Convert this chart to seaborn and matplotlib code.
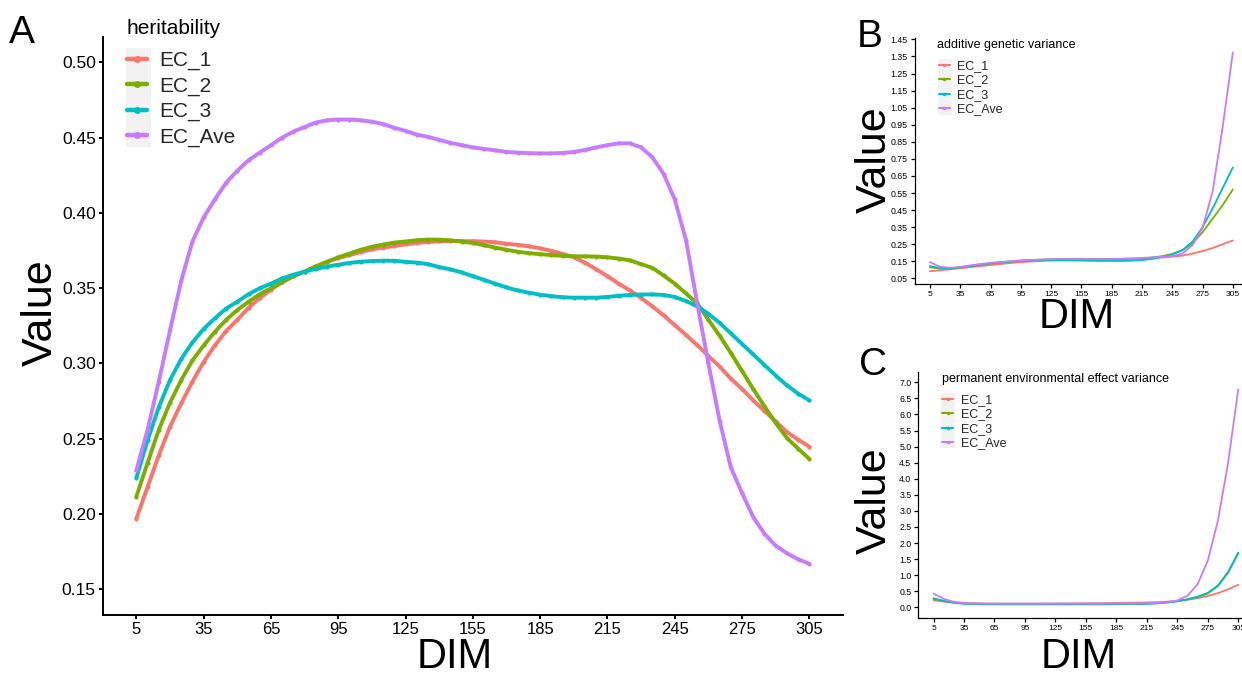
import numpy as np
import pandas as pd
import matplotlib
matplotlib.use("Agg")
import matplotlib.pyplot as plt
import seaborn as sns
from matplotlib.lines import Line2D
from matplotlib.patches import Rectangle

groups = ["EC_1", "EC_2", "EC_3", "EC_Ave"]
colors = ["#F8766D", "#7CAE00", "#00BFC4", "#C77CFF"]

# panel A: heritability, read every 5 DIM
dim_h = list(range(5, 306, 5))
h_ec1 = [0.197, 0.218, 0.239, 0.258, 0.2735, 0.288, 0.301, 0.312, 0.3215, 0.329,
         0.337, 0.3435, 0.349, 0.354, 0.358, 0.361, 0.3645, 0.3675, 0.370, 0.372,
         0.374, 0.3757, 0.377, 0.378, 0.3791, 0.380, 0.3807, 0.3811, 0.3813, 0.3813,
         0.3812, 0.381, 0.3805, 0.3795, 0.3788, 0.3778, 0.3765, 0.3748, 0.3728, 0.3705,
         0.367, 0.3625, 0.358, 0.353, 0.3485, 0.3435, 0.338, 0.332, 0.3255, 0.319,
         0.3122, 0.305, 0.298, 0.290, 0.283, 0.2755, 0.2685, 0.2615, 0.2545, 0.2495,
         0.2448]
h_ec2 = [0.2116, 0.234, 0.256, 0.274, 0.289, 0.302, 0.312, 0.321, 0.329, 0.3355,
         0.341, 0.346, 0.350, 0.354, 0.358, 0.361, 0.3645, 0.3675, 0.3705, 0.373,
         0.3755, 0.3775, 0.379, 0.3803, 0.381, 0.3818, 0.3823, 0.3822, 0.3818, 0.381,
         0.380, 0.3785, 0.377, 0.3755, 0.3742, 0.3733, 0.3726, 0.372, 0.3715, 0.3712,
         0.3711, 0.371, 0.3705, 0.3697, 0.3685, 0.366, 0.3635, 0.3585, 0.353, 0.3465,
         0.340, 0.329, 0.3185, 0.307, 0.295, 0.283, 0.2715, 0.2605, 0.2505, 0.2435,
         0.2366]
h_ec3 = [0.224, 0.249, 0.271, 0.289, 0.303, 0.314, 0.323, 0.330, 0.3365, 0.341,
         0.346, 0.350, 0.353, 0.3565, 0.359, 0.361, 0.3628, 0.3643, 0.3656, 0.3668,
         0.3676, 0.368, 0.3683, 0.3682, 0.3675, 0.367, 0.366, 0.364, 0.3625, 0.3605,
         0.358, 0.3555, 0.353, 0.3505, 0.3485, 0.347, 0.3457, 0.3447, 0.344, 0.3437,
         0.3437, 0.3437, 0.3442, 0.345, 0.3455, 0.3458, 0.3459, 0.3455, 0.3442, 0.3415,
         0.338, 0.333, 0.327, 0.320, 0.313, 0.306, 0.299, 0.292, 0.2855, 0.280,
         0.2755]
h_ave = [0.229, 0.256, 0.288, 0.322, 0.355, 0.381, 0.397, 0.409, 0.420, 0.428,
         0.435, 0.440, 0.445, 0.450, 0.454, 0.457, 0.460, 0.4615, 0.462, 0.462,
         0.4615, 0.4606, 0.459, 0.4565, 0.4545, 0.452, 0.4505, 0.4485, 0.4465, 0.445,
         0.4435, 0.4425, 0.4415, 0.4405, 0.440, 0.4397, 0.4395, 0.4395, 0.4398, 0.4405,
         0.4418, 0.4435, 0.445, 0.4462, 0.4462, 0.4435, 0.437, 0.426, 0.409, 0.382,
         0.340, 0.300, 0.262, 0.231, 0.214, 0.198, 0.187, 0.179, 0.174, 0.170,
         0.167]

# panels B and C: read every 10 DIM
dim_v = list(range(5, 306, 10))
add_ec1 = [0.092, 0.097, 0.103, 0.109, 0.116, 0.122, 0.128, 0.134, 0.140, 0.145,
           0.149, 0.152, 0.155, 0.157, 0.158, 0.159, 0.160, 0.161, 0.162, 0.163,
           0.165, 0.167, 0.170, 0.173, 0.177, 0.183, 0.195, 0.210, 0.228, 0.250,
           0.272]
add_ec2 = [0.115, 0.107, 0.108, 0.114, 0.122, 0.130, 0.137, 0.143, 0.148, 0.153,
           0.157, 0.160, 0.162, 0.163, 0.164, 0.164, 0.164, 0.164, 0.164, 0.164,
           0.165, 0.167, 0.172, 0.180, 0.193, 0.215, 0.255, 0.320, 0.400, 0.480,
           0.571]
add_ec3 = [0.122, 0.110, 0.109, 0.115, 0.123, 0.131, 0.138, 0.144, 0.149, 0.153,
           0.155, 0.156, 0.156, 0.156, 0.155, 0.154, 0.153, 0.152, 0.152, 0.152,
           0.154, 0.157, 0.164, 0.175, 0.190, 0.215, 0.265, 0.350, 0.460, 0.580,
           0.700]
add_ave = [0.145, 0.118, 0.112, 0.117, 0.126, 0.134, 0.141, 0.146, 0.151, 0.155,
           0.158, 0.160, 0.162, 0.163, 0.163, 0.163, 0.163, 0.163, 0.164, 0.165,
           0.167, 0.170, 0.173, 0.176, 0.180, 0.195, 0.245, 0.345, 0.560, 0.940,
           1.374]

pe_ec1 = [0.22, 0.18, 0.15, 0.135, 0.125, 0.12, 0.115, 0.115, 0.115, 0.115,
          0.115, 0.115, 0.118, 0.12, 0.122, 0.125, 0.128, 0.13, 0.135, 0.14,
          0.145, 0.15, 0.16, 0.175, 0.20, 0.235, 0.285, 0.35, 0.44, 0.56,
          0.70]
pe_ec2 = [0.26, 0.19, 0.14, 0.115, 0.10, 0.095, 0.095, 0.095, 0.095, 0.095,
          0.095, 0.095, 0.095, 0.095, 0.095, 0.095, 0.095, 0.095, 0.097, 0.098,
          0.10, 0.11, 0.125, 0.15, 0.19, 0.245, 0.32, 0.43, 0.66, 1.08,
          1.68]
pe_ec3 = [0.28, 0.20, 0.145, 0.115, 0.10, 0.095, 0.095, 0.095, 0.095, 0.095,
          0.095, 0.095, 0.095, 0.095, 0.095, 0.095, 0.095, 0.095, 0.097, 0.098,
          0.10, 0.11, 0.125, 0.15, 0.19, 0.25, 0.33, 0.45, 0.68, 1.10,
          1.70]
pe_ave = [0.43, 0.26, 0.17, 0.135, 0.12, 0.115, 0.115, 0.115, 0.115, 0.115,
          0.115, 0.115, 0.115, 0.115, 0.115, 0.115, 0.115, 0.117, 0.118, 0.12,
          0.12, 0.13, 0.14, 0.165, 0.21, 0.36, 0.72, 1.45, 2.70, 4.50,
          6.78]


def long_df(dims, series):
    rows = []
    for g, vals in zip(groups, series):
        for d, v in zip(dims, vals):
            rows.append((d, v, g))
    return pd.DataFrame(rows, columns=["DIM", "Value", "EC"])


sns.set_style("white")
plt.rcParams["font.family"] = ["Liberation Sans", "DejaVu Sans"]

W, H = 1242, 674
fig = plt.figure(figsize=(W / 100, H / 100), dpi=100)


def px_axes(x0, y0, x1, y1):
    return fig.add_axes([x0 / W, 1 - y1 / H, (x1 - x0) / W, (y1 - y0) / H])


def ftext(x, y, s, size, **kw):
    fig.text(x / W, 1 - y / H, s, fontsize=size, color="black", **kw)


def style_axes(ax, ylim, yticks, yfmt, xfs, yfs, spine_w):
    ax.set_xlim(-10, 320)
    ax.set_ylim(*ylim)
    ax.set_xticks(list(range(5, 306, 30)))
    ax.set_yticks(yticks)
    ax.set_yticklabels([yfmt % t for t in yticks])
    ax.set_xlabel("")
    ax.set_ylabel("")
    for s in ["top", "right"]:
        ax.spines[s].set_visible(False)
    for s in ["left", "bottom"]:
        ax.spines[s].set_color("black")
        ax.spines[s].set_linewidth(spine_w)
    ax.tick_params(axis="both", colors="black", direction="out",
                   length=3, width=spine_w, pad=2, bottom=True, left=True)
    ax.tick_params(axis="x", labelsize=xfs)
    ax.tick_params(axis="y", labelsize=yfs)


def add_legend(ax, title, title_xy, lw, ms, fs, anchor, box, ls, hl, htp):
    ftext(title_xy[0], title_xy[1], title, fs, ha="left", va="baseline")
    handles = [Line2D([], [], color=c, lw=lw, marker="o", ms=ms, mew=0) for c in colors]
    ax.legend(handles, groups, loc="upper left",
              bbox_to_anchor=(anchor[0] / W, 1 - anchor[1] / H),
              bbox_transform=fig.transFigure, frameon=False, fontsize=fs,
              borderpad=0, borderaxespad=0, labelspacing=ls,
              handlelength=hl, handletextpad=htp)
    bx0, by0, bx1, by1 = box
    ax.add_patch(Rectangle((bx0 / W, 1 - by1 / H), (bx1 - bx0) / W, (by1 - by0) / H,
                           transform=fig.transFigure, facecolor="#F2F2F2",
                           edgecolor="none", clip_on=False, zorder=4))


# Panel A
axA = px_axes(102.7, 36.7, 843, 615)
sns.lineplot(data=long_df(dim_h, [h_ec1, h_ec2, h_ec3, h_ave]), x="DIM", y="Value",
             hue="EC", hue_order=groups, palette=colors, linewidth=2.8, marker="o",
             markersize=3.0, markeredgewidth=0, legend=False, ax=axA)
style_axes(axA, (0.133, 0.517), [0.15, 0.20, 0.25, 0.30, 0.35, 0.40, 0.45, 0.50],
           "%.2f", 12, 12.5, 1.4)
add_legend(axA, "heritability", (126, 34.5), 3.2, 5, 15, (127, 51),
           (126, 48, 151, 147), 0.3, 0.95, 0.6)

# Panel B
axB = px_axes(914.8, 37.7, 1248, 284)
sns.lineplot(data=long_df(dim_v, [add_ec1, add_ec2, add_ec3, add_ave]), x="DIM", y="Value",
             hue="EC", hue_order=groups, palette=colors, linewidth=1.3, legend=False, ax=axB)
style_axes(axB, (0.017, 1.46), [round(0.05 + 0.1 * i, 2) for i in range(15)],
           "%.2f", 6, 6.3, 0.9)
add_legend(axB, "additive genetic variance", (936.7, 47.7), 1.5, 2.5, 9, (938.5, 60),
           (937.7, 59.3, 951.7, 115), 0.2, 0.9, 0.6)

# Panel C
axC = px_axes(918.3, 371.7, 1253.5, 618.3)
sns.lineplot(data=long_df(dim_v, [pe_ec1, pe_ec2, pe_ec3, pe_ave]), x="DIM", y="Value",
             hue="EC", hue_order=groups, palette=colors, linewidth=1.3, legend=False, ax=axC)
style_axes(axC, (-0.342, 7.33), [0.5 * i for i in range(15)], "%.1f", 6, 6.3, 0.9)
add_legend(axC, "permanent environmental effect variance", (941.7, 382.3), 1.5, 2.5, 9,
           (942, 394), (941, 393, 955, 448), 0.2, 0.9, 0.6)

# panel letters and axis titles
ftext(9, 43.3, "A", 28, ha="left", va="baseline")
ftext(857, 47, "B", 28, ha="left", va="baseline")
ftext(859, 375, "C", 28, ha="left", va="baseline")

ftext(454.5, 668, "DIM", 30, ha="center", va="baseline")
ftext(1076.7, 328, "DIM", 30, ha="center", va="baseline")
ftext(1079, 668, "DIM", 30, ha="center", va="baseline")

for x, y in [(52, 313), (886, 160), (886, 501)]:
    ftext(x, y, "Value", 31, ha="center", va="baseline", rotation=90, rotation_mode="anchor")

fig.savefig("out.png", dpi=100)
